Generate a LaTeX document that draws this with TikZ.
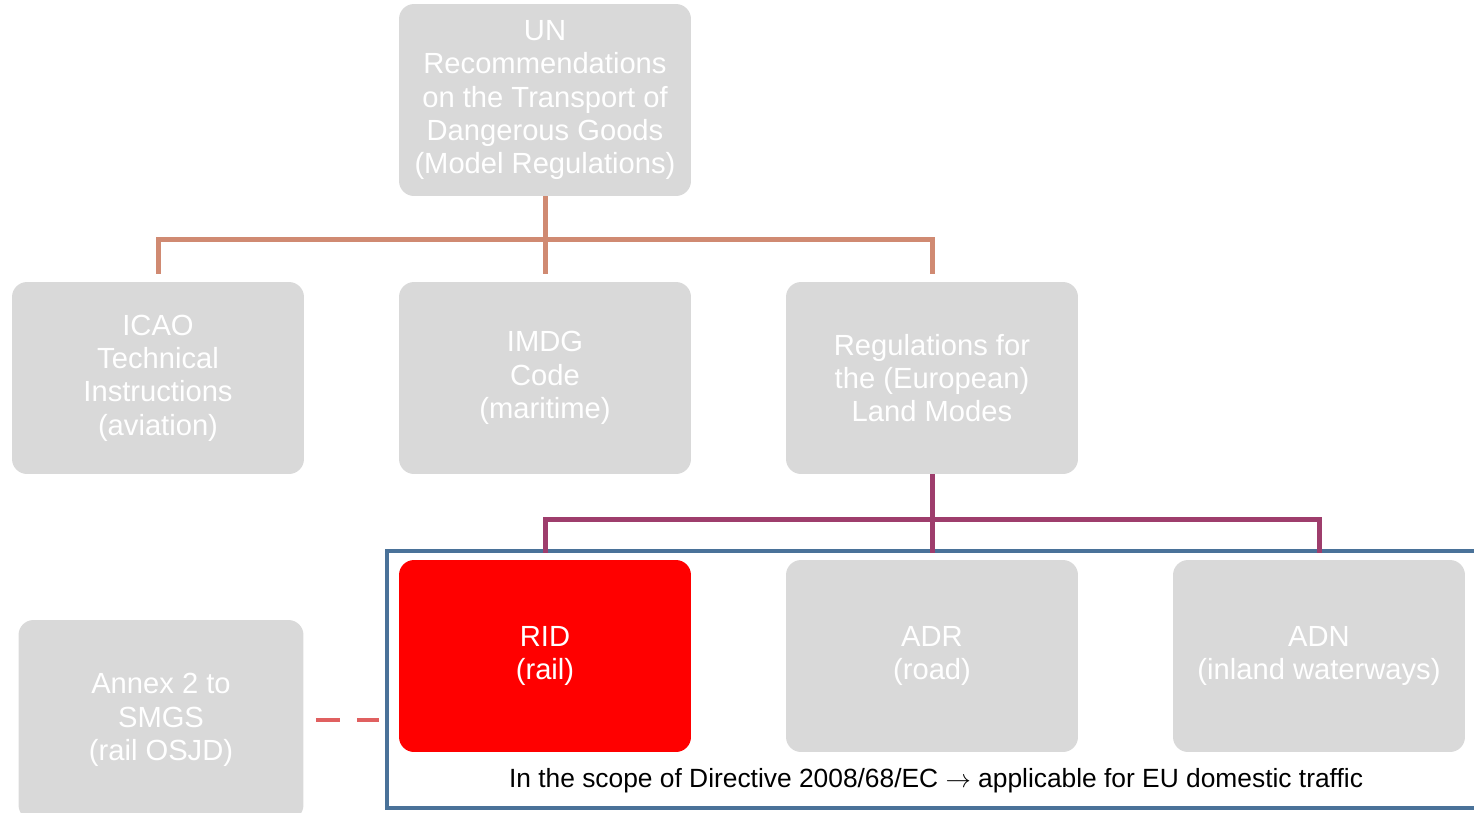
\documentclass[tikz,border=0pt]{standalone}
\usepackage{fontspec}
\setmainfont{Liberation Sans}
\usepackage{xcolor}
\usetikzlibrary{positioning}

\definecolor{boxgray}{HTML}{D9D9D9}
\definecolor{linkorange}{HTML}{D08A72}
\definecolor{linkpurple}{HTML}{9E3D6C}
\definecolor{framblue}{HTML}{4A7299}
\definecolor{dashred}{HTML}{E06060}

\begin{document}
\begin{tikzpicture}[
				x=0.02cm, y=-0.02cm,
				box/.style={
					rectangle,
					fill=boxgray,
					text=white,
					minimum width=5.84cm,
					minimum height=3.84cm,
					align=center,
					rounded corners=0.3cm,
					font=\fontsize{16.6}{19}\selectfont
				},
				redbox/.style={
					box,
					fill=red
				},
				upper/.style={
					draw=linkorange,
					line width=0.1cm
				},
				lower/.style={
					draw=linkpurple,
					line width=0.1cm
				},
				frame/.style={
					rectangle,
					draw=framblue,
					line width=0.09cm,
					minimum width=21.82cm,
					minimum height=5.14cm
				},
				dashline/.style={
					draw=dashred,
					line width=0.09cm,
					dash pattern=on 0.48cm off 0.34cm
				}
			]
			\useasboundingbox (0,0) rectangle (1474,812);
			% Nodes
			\node[box] (un) at (545,100) {UN\\Recommendations\\on the Transport of\\Dangerous Goods\\(Model Regulations)};
			
			\node[box] (icao) at (158,378) {ICAO\\Technical\\Instructions\\(aviation)};
			\node[box] (imdg) at (545,378) {IMDG\\Code\\(maritime)};
			\node[box] (land) at (932,378) {Regulations for\\the (European)\\Land Modes};
			
			\node[frame] (eu) at (932.5,679.5) {};
			\node[redbox] (rid) at (545,656) {RID\\(rail)};
			\node[box] (adr) at (932,656) {ADR\\(road)};
			\node[box] (adn) at (1319,656) {ADN\\(inland waterways)};
			\node[box, minimum width=5.7cm, minimum height=4cm] (annex) at (161,720) {Annex 2 to\\SMGS\\(rail OSJD)};
			\node[font=\fontsize{15}{18}\selectfont] (scope) at (936,781) {In the scope of Directive 2008/68/EC $\rightarrow$ applicable for EU domestic traffic};
			
			\coordinate (busA) at (545,239);
			\coordinate (busB) at (932,519);
			
			\draw[upper] (un.south) -- (busA);
			\foreach \n in {icao,imdg,land}
				\draw[upper, shorten >=0.16cm] (busA) -| (\n.north);
			\draw[lower] (land.south) -- (busB);
			\foreach \n in {rid,adr,adn}
				\draw[lower, shorten >=0.14cm] (busB) -| (\n.north);
			\draw[dashline, shorten <=0.24cm, shorten >=0.12cm] (annex.east) -- (annex.east -| eu.west);
		\end{tikzpicture}
\end{document}
